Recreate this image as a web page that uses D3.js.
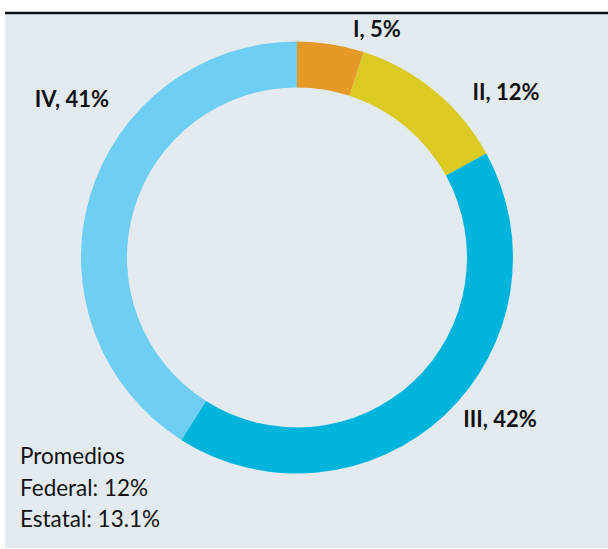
<!DOCTYPE html>
<html><head><meta charset="utf-8">
<script src="https://cdn.jsdelivr.net/npm/d3@7"></script>
<style>body{margin:0;background:#fff}</style>
</head><body>
<svg id="c" width="608" height="549"></svg>
<script>
const categories = ["I", "II", "III", "IV"];
const values = [5, 12, 42, 41];
const colors = ["#e59a27", "#dbca22", "#00b4dc", "#6ecff2"];
const notes = ["Promedios", "Federal: 12%", "Estatal: 13.1%"];

const svg = d3.select("#c");
svg.append("rect").attr("x", 5).attr("y", 13).attr("width", 603).attr("height", 535).attr("fill", "#e3ebf0");
svg.append("line").attr("x1", 5).attr("x2", 608).attr("y1", 13).attr("y2", 13).attr("stroke", "#111").attr("stroke-width", 2.5);

const cx = 297, cy = 257.5, rOut = 216, rIn = 170;
const data = categories.map((c, i) => ({cat: c, val: values[i], color: colors[i]}));
const pie = d3.pie().value(d => d.val).sort(null);
const arc = d3.arc().innerRadius(rIn).outerRadius(rOut);
const g = svg.append("g").attr("transform", `translate(${cx},${cy})`);
const arcs = pie(data);
g.selectAll("path").data(arcs).join("path").attr("d", arc).attr("fill", d => d.data.color);

// label positions
const labelPos = [[377, 37], [506, 100], [500, 427], [72, 107]];
svg.selectAll("text.lbl").data(arcs).join("text").attr("class", "lbl")
  .attr("x", (d, i) => labelPos[i][0]).attr("y", (d, i) => labelPos[i][1])
  .attr("text-anchor", "middle")
  .attr("font-family", "Lato, 'Open Sans', sans-serif").attr("font-weight", "bold").attr("font-size", 22)
  .attr("fill", "#111")
  .text(d => `${d.data.cat}, ${d.data.val}%`);

svg.selectAll("text.note").data(notes).join("text").attr("class", "note")
  .attr("x", 20).attr("y", (d, i) => 464 + i * 31.5)
  .attr("font-family", "Lato, 'Open Sans', sans-serif").attr("font-size", 22.5)
  .attr("fill", "#111").text(d => d);
</script>
</body></html>
